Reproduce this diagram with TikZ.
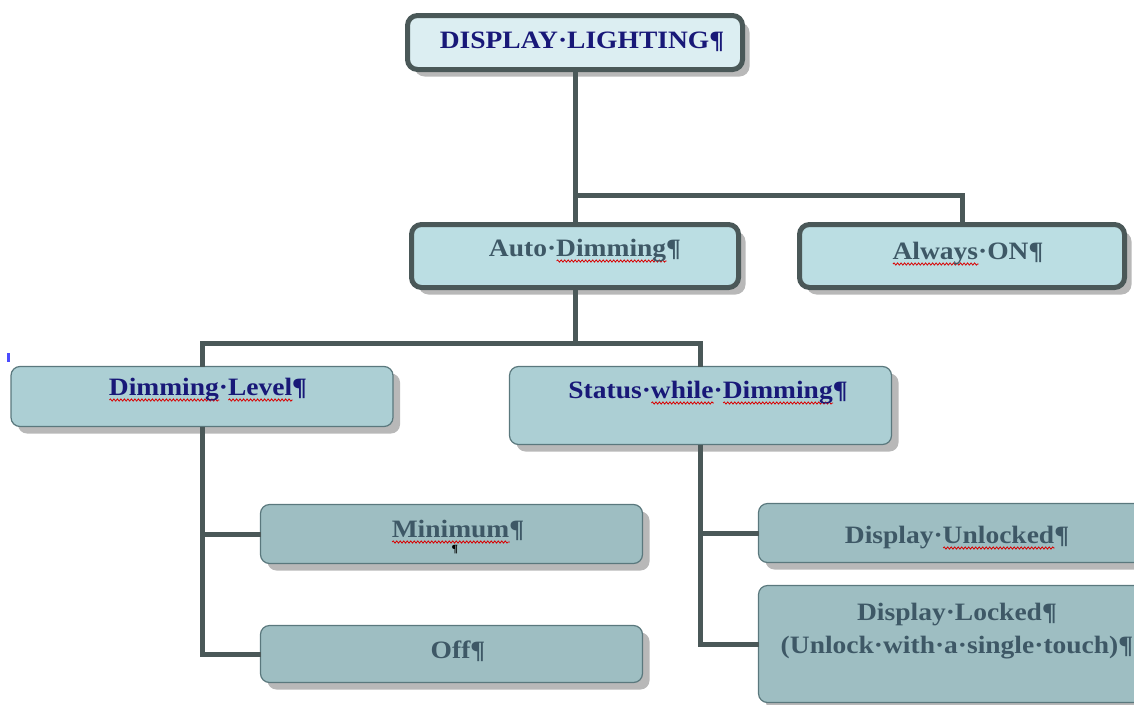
\documentclass[tikz,border=0pt]{standalone}
\usepackage{fontspec}
\setmainfont{Liberation Serif}[FakeStretch=1.1]
\usetikzlibrary{shadows,decorations.pathmorphing}
\definecolor{navy}{RGB}{24,24,120}
\definecolor{slate}{RGB}{62,88,102}
\definecolor{fillTop}{RGB}{220,238,242}
\definecolor{fillA}{RGB}{187,222,227}
\definecolor{fillB}{RGB}{172,207,212}
\definecolor{fillC}{RGB}{158,190,194}
\definecolor{bordA}{RGB}{74,88,88}
\definecolor{bordB}{RGB}{90,120,125}
\definecolor{connc}{RGB}{74,88,88}
\newcommand\sq[1]{\setbox0=\hbox{#1}\rlap{\raisebox{-5pt}[0pt][0pt]{\tikz[baseline=0pt]\draw[draw=red!85!black,line width=0.8pt,decorate,decoration={snake,amplitude=1.1pt,segment length=3.5pt}] (0pt,0pt) -- (\the\wd0,0pt);}}#1}
\tikzset{
  shad/.style={drop shadow={shadow xshift=7pt,shadow yshift=-7pt,fill=black!28,opacity=1}},
  boxA/.style={draw=bordA,line width=5pt,rounded corners=10pt,inner sep=0pt,outer sep=0pt,shad},
  boxB/.style={draw=bordB,line width=1.2pt,rounded corners=9pt,inner sep=0pt,outer sep=0pt,shad},
  conn/.style={draw=connc,line width=5pt},
  lbl/.style={inner sep=0pt,outer sep=0pt,anchor=base,font=\fontsize{25}{30}\selectfont\bfseries},
}
\begin{document}
\begin{tikzpicture}[x=1pt,y=-1pt]
\useasboundingbox (0,0) rectangle (1134,704);
% boxes
\node[boxA,fill=fillTop,minimum width=335pt,minimum height=54pt] (top) at (575,42.5) {};
\node[boxA,fill=fillA,minimum width=327pt,minimum height=63pt] (auto) at (575,256) {};
\node[boxA,fill=fillA,minimum width=325pt,minimum height=63pt] (always) at (962,256) {};
\node[boxB,fill=fillB,minimum width=382pt,minimum height=60pt] (dimlev) at (202,396.5) {};
\node[boxB,fill=fillB,minimum width=382pt,minimum height=78pt] (status) at (700.5,405.5) {};
\node[boxB,fill=fillC,minimum width=382pt,minimum height=59pt] (minimum) at (451.5,534) {};
\node[boxB,fill=fillC,minimum width=382pt,minimum height=57pt] (off) at (451.5,654) {};
\node[boxB,fill=fillC,minimum width=397pt,minimum height=59pt] (unlocked) at (957,533) {};
\node[boxB,fill=fillC,minimum width=397pt,minimum height=117pt] (locked) at (957,644) {};
% connectors
\coordinate (j1) at (575,195);
\coordinate (j2) at (575,343);
\draw[conn] (top.south) -- (j1) -| (always.north);
\draw[conn] (j1) -- (auto.north);
\draw[conn] (auto.south) -- (j2);
\draw[conn] (dimlev.north) |- (j2) -| (status.north);
\draw[conn] (dimlev.south) |- (off.west);
\draw[conn] (dimlev.south |- minimum.west) -- (minimum.west);
\draw[conn] (status.south) |- (locked.west);
\draw[conn] (status.south |- unlocked.west) -- (unlocked.west);
% labels
\node[lbl,text=navy] (topT) at (582,48) {DISPLAY·LIGHTING¶};
\node[lbl,text=slate] (autoT) at (585,256) {Auto·\sq{Dimming}¶};
\node[lbl,text=slate] (alwaysT) at (968,259) {\sq{Always}·ON¶};
\node[lbl,text=navy] (dimlevT) at (208,395) {\sq{Dimming}·\sq{Level}¶};
\node[lbl,text=navy] (statusT) at (708,398) {Status·\sq{while}·\sq{Dimming}¶};
\node[lbl,text=slate] (minimumT) at (458,537) {\sq{Minimum}¶};
\node[inner sep=0pt,text=black,font=\fontsize{11}{12}\selectfont\bfseries] (minimumP) at (455,550) {¶};
\node[lbl,text=slate] (offT) at (458,658) {Off¶};
\node[lbl,text=slate] (unlockedT) at (957,543) {Display·\sq{Unlocked}¶};
\node[lbl,text=slate] (lockedT1) at (957,620) {Display·Locked¶};
\node[lbl,text=slate] (lockedT2) at (957,653) {(Unlock·with·a·single·touch)¶};
% small marker
\fill[blue!70] (7,353) rectangle (10,362);
\end{tikzpicture}
\end{document}
